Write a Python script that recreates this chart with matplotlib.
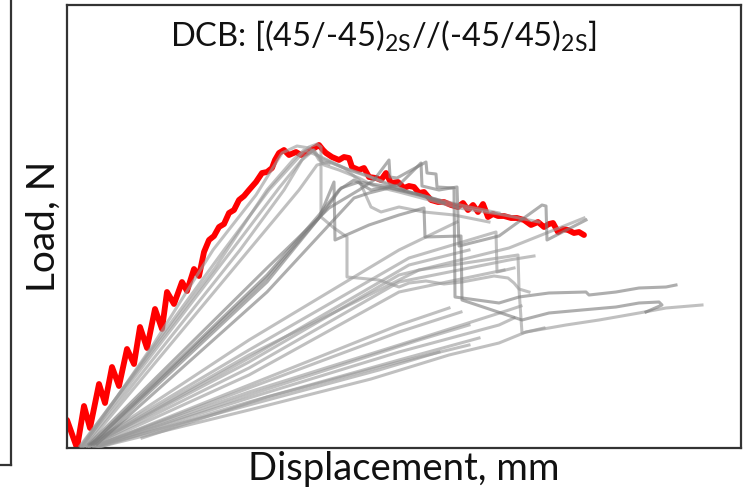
import matplotlib
matplotlib.use("Agg")
import matplotlib.pyplot as plt
from matplotlib.lines import Line2D

plt.rcParams["font.family"] = ["Lato", "DejaVu Sans"]
plt.rcParams["mathtext.fontset"] = "custom"
plt.rcParams["mathtext.rm"] = "Lato"

# Reference specimen (red): displacement in mm, load in N
red_disp = [0.0, 1.0, 1.7, 2.3, 3.2, 3.8, 4.5, 5.2, 6.0, 6.7, 7.3, 8.0, 8.8, 9.5,
            10.0, 10.7, 11.5, 12.0, 12.7, 13.2, 13.7, 14.2, 14.7, 15.2, 15.7, 16.2,
            16.7, 17.2, 17.7, 18.2, 18.9, 19.5, 20.0, 20.5, 20.8, 21.2, 21.7, 22.2,
            22.9, 23.4, 23.9, 24.4, 24.9, 25.2, 25.6, 25.9, 26.5, 27.2, 27.7, 28.2,
            28.5, 29.2, 29.7, 30.2, 30.9, 31.4, 31.9, 32.4, 33.1, 33.7, 34.2, 34.7,
            35.2, 35.7, 36.4, 37.1, 37.7, 38.4, 39.1, 39.6, 40.1, 40.6, 41.1, 41.6,
            42.1, 42.6, 43.1, 43.7, 44.4, 45.0, 45.7, 46.4, 47.1, 47.7, 48.2, 48.6,
            49.1, 49.6, 50.1, 50.7, 51.2, 51.7]
red_load = [56, 0, 84, 40, 128, 90, 162, 124, 198, 168, 242, 200, 278, 238,
            312, 288, 332, 314, 358, 344, 392, 416, 424, 442, 448, 470,
            476, 496, 504, 516, 532, 550, 552, 560, 576, 590, 596, 586,
            592, 586, 590, 596, 602, 606, 596, 590, 582, 576, 582, 580,
            562, 556, 560, 542, 540, 536, 550, 530, 532, 520, 524, 522,
            510, 512, 496, 492, 492, 486, 482, 490, 476, 486, 472, 488,
            462, 468, 464, 464, 460, 460, 456, 446, 452, 442, 448, 450,
            432, 438, 436, 430, 432, 426]

# Other specimens (grey): steep group
a1_disp = [1.6, 8.6, 14.6, 18.9, 21.5, 23.0, 24.2, 25.4, 27.7, 30.2, 31.7, 34.2, 37.2, 40.2, 43.2]
a1_load = [4, 206, 396, 506, 590, 604, 600, 580, 560, 544, 530, 512, 496, 482, 470]

a2_disp = [1.4, 15.7, 20.2, 23.2, 24.2, 25.0, 25.4, 25.4, 26.7, 28.0, 28.0, 31.2, 33.2, 34.2,
           35.9, 37.7, 39.5, 42.7, 44.1, 44.7, 45.2, 45.5, 47.7]
a2_load = [4, 396, 516, 582, 602, 608, 602, 462, 440, 422, 342, 336, 322, 330,
           334, 328, 332, 344, 340, 330, 318, 230, 240]

a3_disp = [1.7, 17.3, 21.7, 23.5, 24.7, 25.7, 27.2, 29.2, 30.7, 33.2, 36.2, 39.2, 43.2, 47.2]
a3_load = [4, 396, 516, 576, 596, 566, 556, 540, 524, 512, 496, 480, 468, 452]

a4_disp = [1.9, 18.2, 23.2, 25.0, 26.2, 27.7, 29.2, 30.4, 31.4, 33.2, 35.7, 38.7, 42.2]
a4_load = [4, 396, 516, 566, 572, 560, 536, 482, 472, 482, 472, 466, 452]

a5_disp = [1.3, 14.8, 20.0, 22.6, 23.7, 25.2, 28.2, 31.2, 33.7]
a5_load = [4, 360, 516, 576, 596, 584, 556, 536, 516]

a6_disp = [1.5, 16.5, 21.2, 23.8, 24.6, 25.2, 26.2]
a6_load = [4, 396, 520, 584, 596, 576, 568]

# Intermediate-stiffness group with stepwise crack jumps
b1_disp = [2.2, 11.2, 20.0, 26.2, 29.2, 30.7, 32.2, 32.3, 33.0, 35.9, 36.0, 36.9, 37.0, 38.7,
           38.8, 43.2, 45.2, 48.2, 51.9, 52.2, 54.9, 57.2, 59.9, 60.9]
b1_load = [8, 186, 360, 480, 516, 536, 576, 542, 540, 572, 550, 548, 522, 520,
           302, 290, 302, 310, 312, 306, 312, 320, 322, 326]

b2_disp = [2.4, 20.0, 25.2, 27.2, 28.7, 30.4, 33.2, 35.4, 35.5, 37.2, 39.0, 39.2, 43.2, 47.5,
           47.9, 48.0, 51.9]
b2_load = [8, 346, 466, 516, 536, 516, 526, 570, 524, 516, 522, 404, 424, 486,
           484, 416, 456]

b3_disp = [2.7, 20.0, 25.2, 26.7, 26.8, 30.2, 33.2, 35.7, 35.8, 39.4, 39.5, 45.5, 48.2, 51.5,
           54.9, 57.2, 59.2, 59.5, 57.9]
b3_load = [8, 332, 460, 532, 416, 446, 466, 480, 422, 424, 296, 256, 270, 276,
           282, 290, 292, 286, 272]

b4_disp = [3.0, 20.0, 26.2, 28.7, 30.2, 32.2, 35.2, 37.7]
b4_load = [8, 312, 446, 500, 510, 520, 506, 490]

b5_disp = [2.5, 20.0, 25.7, 27.4, 29.2, 31.7, 34.7, 37.2]
b5_load = [8, 340, 472, 520, 532, 524, 510, 496]

# Medium-slope group
c1_disp = [2.0, 18.2, 34.2, 42.9, 43.0, 44.7]
c1_load = [4, 196, 380, 432, 352, 360]

c2_disp = [2.2, 18.2, 35.2, 45.1, 45.2, 46.2]
c2_load = [4, 186, 356, 386, 318, 312]

c3_disp = [2.2, 18.2, 33.2, 44.2, 51.7]
c3_load = [4, 172, 346, 400, 460]

c4_disp = [2.4, 18.2, 33.2, 44.2, 46.7]
c4_load = [4, 160, 332, 376, 384]

c5_disp = [2.6, 18.2, 33.2, 43.7]
c5_load = [4, 146, 312, 356]

c6_disp = [2.1, 18.2, 33.2, 39.0]
c6_load = [4, 216, 396, 452]

c7_disp = [2.3, 18.2, 34.2, 40.2]
c7_load = [4, 180, 366, 396]

# Compliant group
d1_disp = [2.7, 18.2, 33.2, 44.2, 45.4]
d1_load = [4, 112, 206, 276, 284]

d2_disp = [3.0, 18.2, 33.2, 43.2, 44.7]
d2_load = [4, 100, 192, 246, 260]

d3_disp = [3.2, 18.2, 30.4, 38.2, 43.2, 45.9, 49.9, 53.2, 57.2, 59.9, 63.5]
d3_load = [2, 76, 138, 186, 210, 232, 246, 256, 270, 280, 286]

d4_disp = [3.2, 18.2, 33.2, 41.2]
d4_load = [2, 92, 176, 220]

d5_disp = [7.5, 20.0, 33.2, 40.2]
d5_load = [20, 102, 172, 206]

d6_disp = [2.8, 18.2, 33.2, 39.4]
d6_load = [4, 120, 232, 272]

d7_disp = [3.0, 18.2, 31.2, 37.2]
d7_load = [4, 86, 156, 192]

d8_disp = [2.9, 18.2, 33.2, 38.2]
d8_load = [4, 126, 246, 280]

d9_disp = [3.1, 18.2, 35.2, 40.2]
d9_load = [4, 106, 216, 246]

light_curves = [(a1_disp, a1_load), (a2_disp, a2_load), (a3_disp, a3_load), (a4_disp, a4_load),
                (a5_disp, a5_load), (a6_disp, a6_load),
                (c1_disp, c1_load), (c2_disp, c2_load), (c3_disp, c3_load), (c4_disp, c4_load),
                (c5_disp, c5_load), (c6_disp, c6_load), (c7_disp, c7_load),
                (d1_disp, d1_load), (d2_disp, d2_load), (d3_disp, d3_load), (d4_disp, d4_load),
                (d5_disp, d5_load), (d6_disp, d6_load), (d7_disp, d7_load), (d8_disp, d8_load),
                (d9_disp, d9_load)]
dark_curves = [(b1_disp, b1_load), (b2_disp, b2_load), (b3_disp, b3_load), (b4_disp, b4_load),
               (b5_disp, b5_load)]

title = r"DCB: [(45/-45)$_{\mathrm{2S}}$//(-45/45)$_{\mathrm{2S}}$]"

fig = plt.figure(figsize=(7.44, 4.92), dpi=100)
ax = fig.add_axes([67 / 744, 44 / 492, 674 / 744, 443 / 492])

ax.plot(red_disp, red_load, color="#ff0000", lw=4.2, solid_joinstyle="round",
        solid_capstyle="round", zorder=2)
for xs, ys in light_curves:
    ax.plot(xs, ys, color="#9a9a9a", lw=2.2, alpha=0.62, zorder=3)
for xs, ys in dark_curves:
    ax.plot(xs, ys, color="#7c7c7c", lw=2.2, alpha=0.62, zorder=3)

ax.set_xlim(0, 67.4)
ax.set_ylim(0, 886)
ax.set_xticks([])
ax.set_yticks([])
for s in ax.spines.values():
    s.set_linewidth(1.6)
    s.set_color("#333333")

ax.text(0.47, 0.93, title, transform=ax.transAxes, ha="center", va="center",
        fontsize=23.5, color="#111111")
ax.set_xlabel("Displacement, mm", fontsize=27.5, color="#111111", labelpad=2)
ax.set_ylabel("Load, N", fontsize=28, color="#111111", labelpad=4)

# Edge of the neighbouring panel on the left
fig.add_artist(Line2D([11 / 744, 11 / 744], [1.0, 1 - 465 / 492], transform=fig.transFigure,
                      color="#333333", lw=1.6))
fig.add_artist(Line2D([0, 11 / 744], [1 - 465 / 492, 1 - 465 / 492], transform=fig.transFigure,
                      color="#333333", lw=1.6))

fig.savefig("out.png", dpi=100)
